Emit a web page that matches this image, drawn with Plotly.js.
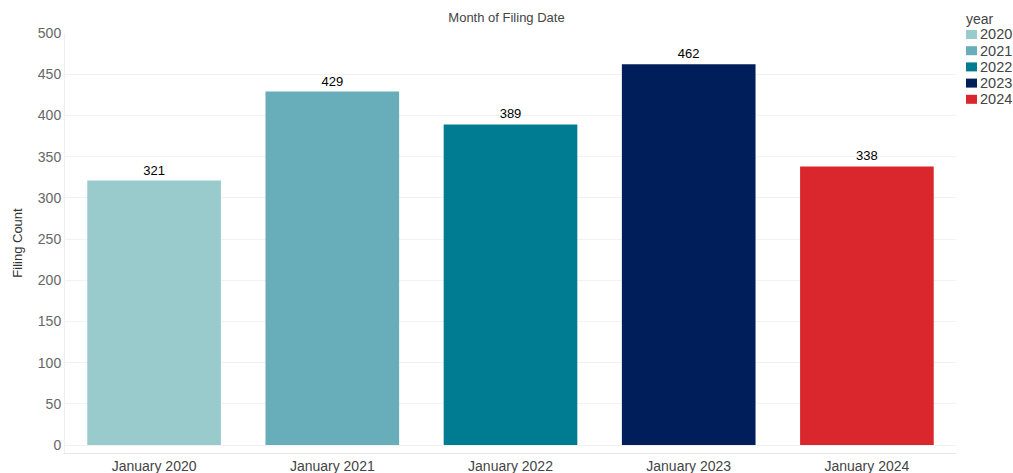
<!DOCTYPE html>
<html><head><meta charset="utf-8">
<script src="https://cdn.plot.ly/plotly-3.0.1.min.js"></script>
<style>html,body{margin:0;padding:0;background:#fff}</style>
</head><body>
<div id="chart" style="width:1013px;height:473px"></div>
<script>
const categories = ["January 2020","January 2021","January 2022","January 2023","January 2024"];
const years = ["2020","2021","2022","2023","2024"];
const counts = [321, 429, 389, 462, 338];
const colors = ["#99CACC","#67AEBA","#007C92","#001E5A","#D9272D"];

const W = 1013, H = 473, ML = 65, MR = 57, MT = 33, MB = 20;
const pw = W - ML - MR, ph = H - MT - MB;
const px = x => (x - ML) / pw;
const py = y => (H - MB - y) / ph;

const traces = years.map((y,i)=>({
  type:'bar', name:y, x:[categories[i]], y:[counts[i]],
  marker:{color:colors[i]},
  text:[String(counts[i])], textposition:'outside',
  textfont:{color:'#000', size:13, family:'Arial, Liberation Sans, sans-serif'},
  cliponaxis:false, hoverinfo:'x+y', showlegend:false
}));

// custom legend built from the years/colors arrays
const shapes = [], annotations = [];
annotations.push({xref:'paper', yref:'paper', x:px(964), y:py(19), xanchor:'left', yanchor:'middle',
  text:'year', showarrow:false, font:{size:14, color:'#444'}});
years.forEach((y,i)=>{
  const cy = 34.5 + i*16.2;
  shapes.push({type:'rect', xref:'paper', yref:'paper', x0:px(966), x1:px(977), y0:py(cy-4.5), y1:py(cy+4.5),
    fillcolor:colors[i], line:{width:0}});
  annotations.push({xref:'paper', yref:'paper', x:px(978), y:py(cy), xanchor:'left', yanchor:'middle',
    text:y, showarrow:false, font:{size:14.5, color:'#444'}});
});

const layout = {
  width:W, height:H,
  margin:{l:ML, r:MR, t:MT, b:MB, autoexpand:false},
  paper_bgcolor:'#fff', plot_bgcolor:'#fff',
  font:{family:'Arial, Liberation Sans, sans-serif', size:13, color:'#555'},
  title:{text:'Month of Filing Date', x:0.5, xanchor:'center', y:0.964, yanchor:'middle', font:{size:13, color:'#444'}},
  barmode:'overlay', bargap:0.25,
  xaxis:{type:'category', categoryarray:categories, categoryorder:'array',
    showgrid:false, showline:true, linecolor:'#e6e6e6', linewidth:1,
    tickfont:{size:14, color:'#444'}, ticks:'', ticklen:0},
  yaxis:{range:[-9.7,500], dtick:50, tick0:0, showgrid:true, gridcolor:'#f2f2f2',
    zeroline:false, showline:true, linecolor:'#f0f0f0',
    tickfont:{size:14, color:'#666'}, ticks:'',
    title:{text:'Filing Count', font:{size:13, color:'#333'}, standoff:12}},
  showlegend:false,
  shapes, annotations
};
Plotly.newPlot('chart', traces, layout, {displayModeBar:false});
</script>
</body></html>
